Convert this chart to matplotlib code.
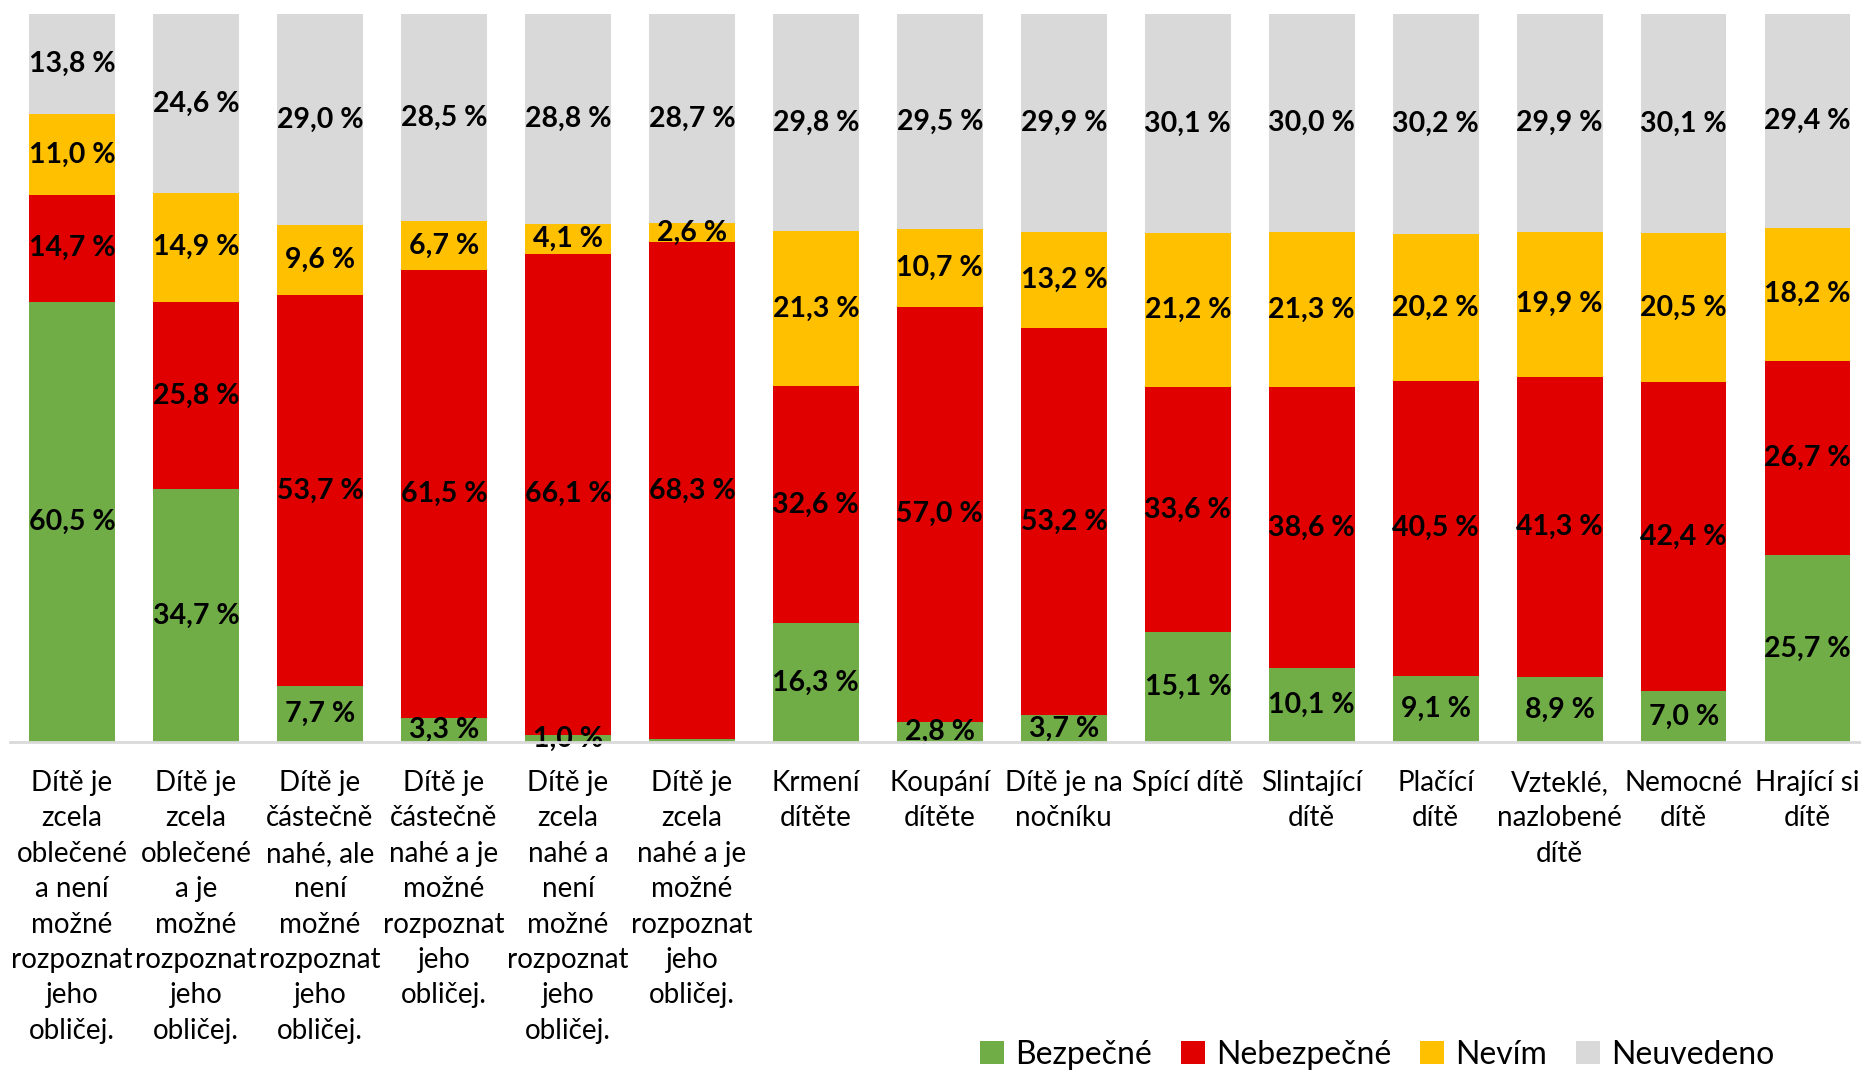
import numpy as np
import matplotlib.pyplot as plt

plt.rcParams['font.family'] = ['Lato', 'DejaVu Sans']

categories = [
    "Dítě je\nzcela\noblečené\na není\nmožné\nrozpoznat\njeho\nobličej.",
    "Dítě je\nzcela\noblečené\na je\nmožné\nrozpoznat\njeho\nobličej.",
    "Dítě je\nčástečně\nnahé, ale\nnení\nmožné\nrozpoznat\njeho\nobličej.",
    "Dítě je\nčástečně\nnahé a je\nmožné\nrozpoznat\njeho\nobličej.",
    "Dítě je\nzcela\nnahé a\nnení\nmožné\nrozpoznat\njeho\nobličej.",
    "Dítě je\nzcela\nnahé a je\nmožné\nrozpoznat\njeho\nobličej.",
    "Krmení\ndítěte",
    "Koupání\ndítěte",
    "Dítě je na\nnočníku",
    "Spící dítě",
    "Slintající\ndítě",
    "Plačící\ndítě",
    "Vzteklé,\nnazlobené\ndítě",
    "Nemocné\ndítě",
    "Hrající si\ndítě",
]

bezpecne = [60.5, 34.7, 7.7, 3.3, 1.0, 0.4, 16.3, 2.8, 3.7, 15.1, 10.1, 9.1, 8.9, 7.0, 25.7]
nebezpecne = [14.7, 25.8, 53.7, 61.5, 66.1, 68.3, 32.6, 57.0, 53.2, 33.6, 38.6, 40.5, 41.3, 42.4, 26.7]
nevim = [11.0, 14.9, 9.6, 6.7, 4.1, 2.6, 21.3, 10.7, 13.2, 21.2, 21.3, 20.2, 19.9, 20.5, 18.2]
neuvedeno = [13.8, 24.6, 29.0, 28.5, 28.8, 28.7, 29.8, 29.5, 29.9, 30.1, 30.0, 30.2, 29.9, 30.1, 29.4]

series = [
    ("Bezpečné", bezpecne, "#70AD47"),
    ("Nebezpečné", nebezpecne, "#E00000"),
    ("Nevím", nevim, "#FFC000"),
    ("Neuvedeno", neuvedeno, "#D9D9D9"),
]

fig = plt.figure(figsize=(18.61, 10.74), dpi=100)
ax = fig.add_axes([10 / 1861, 332 / 1074, 1 - 10 / 1861, 728 / 1074])

x = np.arange(len(categories))
bottom = np.zeros(len(categories))
for name, vals, color in series:
    vals = np.array(vals)
    ax.bar(x, vals, 0.69, bottom=bottom, color=color, label=name, zorder=2)
    for xi, b, v in zip(x, bottom, vals):
        if v >= 1.0:
            ax.text(xi, b + v / 2, f"{v:.1f} %".replace('.', ','),
                    ha='center', va='center', fontsize=20.5, fontweight='bold',
                    color='black', zorder=3)
    bottom += vals

ax.set_xlim(-0.5, 14.43)
ax.set_ylim(0, 100)
ax.set_yticks([])
ax.set_xticks(x)
ax.set_xticklabels(categories, fontsize=20, linespacing=1.45)
ax.tick_params(axis='x', length=0, pad=20)
for s in ['top', 'right', 'left']:
    ax.spines[s].set_visible(False)
ax.spines['bottom'].set_color('#D9D9D9')
ax.spines['bottom'].set_linewidth(2)
ax.spines['bottom'].set_zorder(4)

fig.legend(loc='center', bbox_to_anchor=(0.74, 0.018), ncol=4, frameon=False,
           fontsize=23, handlelength=0.75, handleheight=0.75, handletextpad=0.35,
           columnspacing=0.9)

fig.savefig("out.png", dpi=100)
